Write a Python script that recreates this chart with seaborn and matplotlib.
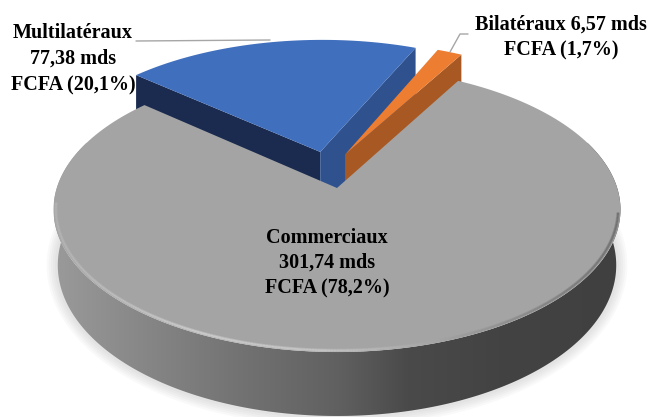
import numpy as np
import matplotlib
matplotlib.use('Agg')
import matplotlib.pyplot as plt
from matplotlib.collections import LineCollection
from matplotlib.colors import LinearSegmentedColormap
from matplotlib.patches import Polygon
import seaborn as sns

# montants en mds FCFA
categories = ['Commerciaux', 'Multilatéraux', 'Bilatéraux']
montants = [301.74, 77.38, 6.57]
parts = np.array(montants) / sum(montants)

# projection du disque sur l'image (pixels)
X0, Y0 = 337, 188
A, B, K = 280.2, 139.1, 0.1517
D = 54.3
START = 29.3

GRIS, BLEU, ORANGE = '#A4A4A4', '#406FBE', '#ED7D31'
BLEU_G, BLEU_D = '#1A2B4F', '#2F528F'
ORANGE_D = '#A85822'
TRAIT = '#A6A6A6'


def projet(theta, r=1.0, du=0.0, dv=0.0):
    # theta en degres, sens horaire depuis l'arriere du disque
    t = np.radians(theta)
    u = r * np.sin(t) + du
    v = r * np.cos(t) + dv
    w = 1 + K * v
    return X0 + A * u / w, Y0 - B * v / w


def profondeur(theta, r=1.0, dv=0.0):
    return D / (1 + K * (r * np.cos(np.radians(theta)) + dv))


def secteur(ax, debut, part, couleur, du=0.0, dv=0.0, z=3):
    th = np.linspace(debut, debut + part * 360, 200)
    x, y = projet(th, 1.0, du, dv)
    cx, cy = projet(0.0, 0.0, du, dv)
    ax.fill(np.r_[cx, x], np.r_[cy, y], color=couleur, lw=0, zorder=z)


def flanc(ax, theta, couleur, du=0.0, dv=0.0, z=2, fact=1.0):
    ax_x = np.array([projet(theta, 0.0, du, dv)[0], projet(theta, 1.0, du, dv)[0]])
    ax_y = np.array([projet(theta, 0.0, du, dv)[1], projet(theta, 1.0, du, dv)[1]])
    d = np.array([profondeur(theta, 0.0, dv), profondeur(theta, 1.0, dv)]) * fact
    ax.fill(np.r_[ax_x, ax_x[::-1]], np.r_[ax_y, (ax_y + d)[::-1]],
            color=couleur, lw=0, zorder=z)


sns.set_theme(style='white')
plt.rcParams['font.family'] = ['Liberation Serif', 'DejaVu Serif']

fig = plt.figure(figsize=(6.51, 4.17), dpi=100)
ax = fig.add_axes([0, 0, 1, 1])

debut_com = START
debut_mul = debut_com + parts[0] * 360
debut_bil = debut_mul + parts[1] * 360

# ombre portee sous le disque
th = np.linspace(70, 290, 300)
xh, yh = projet(th)
yb = yh + profondeur(th)
xb = X0 + (xh - X0) * 0.985
for lw in [16, 13, 10, 7, 4]:
    ax.plot(xb, yb, color='#606060', alpha=0.035, lw=lw, zorder=1,
            solid_capstyle='round')

# flanc gris avec degrade
cm_flanc = LinearSegmentedColormap.from_list('flanc', [
    (0.0, '#9A9A9A'), (0.17, '#858585'), (0.33, '#727272'), (0.5, '#606060'),
    (0.62, '#4A4A4A'), (0.78, '#434343'), (1.0, '#404040')])
contour = Polygon(np.c_[np.r_[xh, xb[::-1]], np.r_[yh, yb[::-1]]],
                  transform=ax.transData, fc='none', ec='none')
ax.add_patch(contour)
im = ax.imshow(np.linspace(0, 1, 256)[None, :], cmap=cm_flanc, aspect='auto',
               extent=(xb.min() - 4, xh.max() + 4, 425, 0), zorder=2)
im.set_clip_path(contour)

# secteurs detaches
du_mul, dv_mul = -0.0623, 0.27
du_bil, dv_bil = 0.03, 0.25
flanc(ax, debut_mul, BLEU_G, du_mul, dv_mul, z=3)
flanc(ax, debut_bil, BLEU_D, du_mul, dv_mul, z=3, fact=1.2)
secteur(ax, debut_mul, parts[1], BLEU, du_mul, dv_mul, z=4)
flanc(ax, debut_com, ORANGE_D, du_bil, dv_bil, z=5)
secteur(ax, debut_bil, parts[2], ORANGE, du_bil, dv_bil, z=6)

# grand secteur
secteur(ax, debut_com, parts[0], GRIS, z=7)

# liseré du bord avant
th = np.linspace(100, 264, 300)
cm_rim = LinearSegmentedColormap.from_list('rim', [
    (0.0, '#B4B4B4'), (0.26, '#D0D0D0'), (0.48, '#C8C8C8'), (0.66, '#A8A8A8'),
    (0.82, '#8A8A8A'), (1.0, '#6A6A6A')])
for r, lw, al in [(0.992, 2.4, 0.45), (0.992, 1.2, 0.8)]:
    xr, yr = projet(th, r)
    seg = np.stack([np.c_[xr[:-1], yr[:-1]], np.c_[xr[1:], yr[1:]]], axis=1)
    rim = LineCollection(seg, colors=cm_rim((xr[:-1] - 53) / 567), lw=lw,
                         alpha=al, zorder=8)
    ax.add_collection(rim)

# etiquettes
police = dict(fontsize=14.5, fontweight='bold', color='black', ha='center',
              va='center', zorder=10)
for y, txt in zip([238, 263, 288], ['Commerciaux', '301,74 mds', 'FCFA (78,2%)']):
    ax.text(327, y, txt, **police)
for y, txt in zip([33, 59, 85], ['Multilatéraux', '77,38 mds', 'FCFA (20,1%)']):
    ax.text(73, y, txt, **police)
ax.text(561, 25, 'Bilatéraux 6,57 mds', **police)
ax.text(561, 50, 'FCFA (1,7%)', **police)

# traits de rappel
ax.plot([136, 270], [41, 40], color=TRAIT, lw=1, zorder=9)
ax.plot([468, 460, 450], [34, 34, 52], color=TRAIT, lw=1, zorder=9)

ax.set_xlim(0, 651)
ax.set_ylim(417, 0)
ax.axis('off')
fig.savefig('out.png', dpi=100, facecolor='white')
